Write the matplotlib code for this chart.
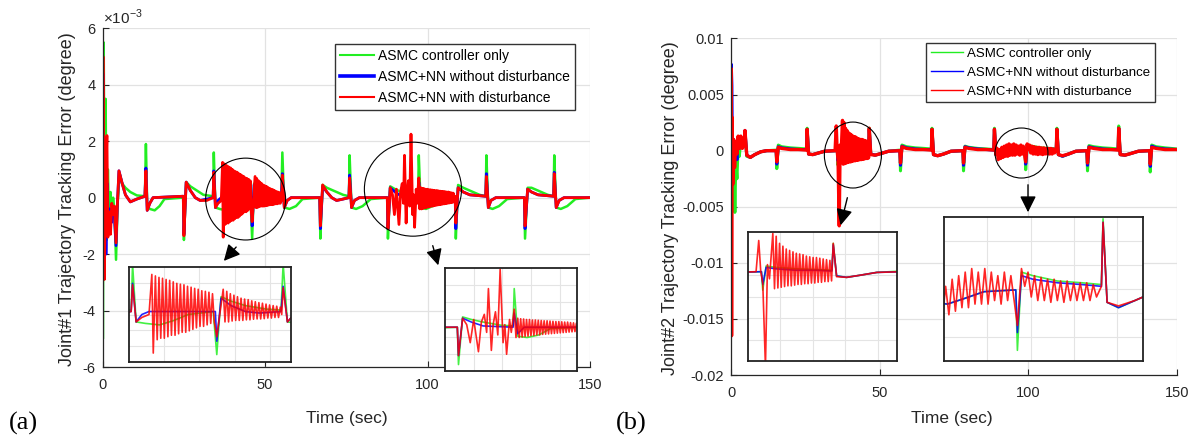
import matplotlib
matplotlib.use('Agg')
import matplotlib.pyplot as plt
from matplotlib.patches import Ellipse
from matplotlib.lines import Line2D

plt.rcParams['font.family'] = ['Liberation Sans', 'DejaVu Sans']
plt.rcParams['mathtext.fontset'] = 'custom'
plt.rcParams['mathtext.rm'] = 'Liberation Sans'

# ---------------- data ----------------
labels = ['ASMC controller only', 'ASMC+NN without disturbance', 'ASMC+NN with disturbance']
colors = ['#22ee22', '#0000ff', '#ff0000']

x_ticks = [0, 50, 100, 150]
j1_ticks = [-6, -4, -2, 0, 2, 4, 6]                       # x 1e-3
j1_ticklabels = ['-6', '-4', '-2', '0', '2', '4', '6']
j2_ticks = [-0.02, -0.015, -0.01, -0.005, 0, 0.005, 0.01]
j2_ticklabels = ['-0.02', '-0.015', '-0.01', '-0.005', '0', '0.005', '0.01']

# Joint 1 (units of 1e-3 degree): (time, error)
j1_green = [(0, 0), (0.05, -5.0), (0.3, 5.5), (0.6, -1.0), (0.9, 3.5), (1.2, -1.5), (1.6, 1.0), (2.0, -1.0),
            (2.4, 0.2), (2.8, -0.6), (3.2, 0.0), (3.6, -0.4), (4.1, -2.2), (4.6, -0.2), (5.2, 0.85), (6.0, 0.5),
            (7.0, 0.35), (8.5, 0.2), (10.5, 0.08), (13.0, 0.05),
            (13.3, 1.9), (13.7, -0.3), (14.5, -0.4), (16.0, -0.45), (17.5, -0.3), (19.0, -0.05), (24.8, 0.0),
            (25.0, -1.5), (25.7, 0.55), (27.0, 0.4), (29.0, 0.25), (31.0, 0.1), (34.0, 0.05),
            (34.2, 1.6), (34.7, -0.35), (36.0, -0.4), (38.0, -0.45), (40.0, -0.3), (42.0, -0.1), (45.5, 0.0),
            (46.0, -1.45), (46.6, 0.5), (48.0, 0.35), (50.0, 0.2), (53.0, 0.08), (55.0, 0.05),
            (55.3, 1.6), (55.9, -0.35), (57.5, -0.4), (59.5, -0.3), (61.5, -0.05), (66.8, 0.0),
            (67.0, -1.45), (67.7, 0.45), (69.0, 0.35), (71.0, 0.25), (74.0, 0.1), (75.8, 0.05),
            (76.0, 1.5), (76.6, -0.35), (78.0, -0.4), (80.0, -0.3), (82.5, -0.05), (87.6, 0.0),
            (87.8, -1.45), (88.5, 0.4), (90.0, 0.3), (92.0, 0.2), (95.0, 0.08), (97.1, 0.05),
            (97.3, 1.5), (97.9, -0.35), (99.5, -0.4), (101.5, -0.3), (103.5, -0.05), (108.5, 0.0),
            (108.7, -1.45), (109.4, 0.45), (111.0, 0.35), (113.0, 0.25), (116.0, 0.1), (117.9, 0.05),
            (118.1, 1.5), (118.7, -0.35), (120.0, -0.4), (122.0, -0.3), (124.5, -0.05), (129.8, 0.0),
            (130.0, -1.45), (130.8, 0.35), (132.0, 0.35), (134.0, 0.25), (137.0, 0.1), (138.8, 0.05),
            (139.0, 1.5), (139.6, -0.35), (141.0, -0.4), (143.0, -0.3), (145.5, -0.05), (150, 0.0)]

j1_blue = [(0, 0), (0.1, 4.4), (0.4, -2.5), (0.7, 1.5), (1.0, -2.0), (1.4, 0.5), (1.8, -1.2), (2.2, -0.4),
           (2.6, -0.9), (3.0, -0.3), (3.5, -0.5), (4.1, -1.7), (4.5, -0.3), (5.0, 0.95), (6.0, 0.5), (7.0, 0.1),
           (8.5, -0.15), (10.5, -0.05), (13.0, 0.05),
           (13.3, 1.05), (13.7, -0.45), (14.5, -0.2), (15.5, 0.0), (24.8, 0.05),
           (25.0, -1.3), (25.7, 0.55), (27.0, 0.25), (28.5, 0.0), (30.0, -0.1), (32.0, -0.05), (34.0, 0.0),
           (34.2, 0.95), (34.7, -0.35), (35.5, -0.1), (36.5, 0.0), (45.8, 0.0),
           (46.0, -1.0), (46.6, 0.45), (48.0, 0.2), (50.0, 0.0), (52.0, -0.05), (55.0, 0.0),
           (55.3, 0.85), (55.9, -0.35), (56.8, -0.1), (58.0, 0.0), (66.8, 0.0),
           (67.0, -1.1), (67.7, 0.4), (69.0, 0.2), (70.5, 0.0), (72.0, -0.1), (74.0, -0.05), (75.8, 0.0),
           (76.0, 0.8), (76.6, -0.35), (77.5, -0.1), (79.0, 0.0), (87.6, 0.0),
           (87.8, -1.1), (88.5, 0.35), (90.0, 0.2), (92.0, 0.05), (97.1, 0.0),
           (97.3, 0.55), (97.9, -0.25), (99.0, 0.0), (108.5, 0.0),
           (108.7, -1.1), (109.4, 0.35), (111.0, 0.2), (113.0, 0.1), (117.9, 0.05),
           (118.1, 0.85), (118.7, -0.35), (119.5, -0.1), (121.0, 0.0), (129.8, 0.0),
           (130.0, -1.1), (130.8, 0.3), (132.0, 0.2), (134.0, 0.1), (138.8, 0.05),
           (139.0, 0.9), (139.6, -0.35), (140.5, -0.1), (142.0, 0.0), (150, 0.0)]

j1_red = [(0, 0), (0.1, 5.0), (0.5, -2.9), (0.9, 0.5), (1.3, 2.2), (1.6, -1.4), (2.0, -0.5), (2.4, -1.3),
          (2.8, -0.2), (3.2, -0.6), (3.6, -0.3), (4.1, -1.6), (4.5, -0.3), (5.0, 0.95), (6.0, 0.5), (7.0, 0.1),
          (8.5, -0.15), (10.5, -0.05), (13.0, 0.05),
          (13.3, 0.95), (13.7, -0.45), (14.5, -0.2), (15.5, 0.0), (24.8, 0.05),
          (25.0, -1.35), (25.7, 0.55), (27.0, 0.25), (28.5, 0.0), (30.0, -0.1), (32.0, -0.1), (34.0, 0.0),
          (34.2, 0.9), (34.7, -0.35), (35.5, -0.2), (36.5, -0.1),
          (36.9, 1.25), (37.1, -1.4), (37.4, 1.2), (37.65, -0.95), (37.9, 1.15), (38.15, -0.9), (38.4, 1.12),
          (38.65, -0.9), (38.9, 1.08), (39.15, -0.85), (39.4, 1.05), (39.65, -0.8), (39.9, 1.0), (40.15, -0.8),
          (40.4, 0.95), (40.65, -0.75), (40.9, 0.92), (41.15, -0.7), (41.4, 0.9), (41.65, -0.7), (41.9, 0.85),
          (42.15, -0.65), (42.4, 0.82), (42.65, -0.6), (42.9, 0.78), (43.15, -0.55), (43.4, 0.75), (43.65, -0.5),
          (43.9, 0.7), (44.15, -0.5), (44.4, 0.68), (44.65, -0.45), (44.9, 0.65), (45.15, -0.4), (45.4, 0.6),
          (45.65, -0.35),
          (46.0, -0.85), (46.9, 0.75), (47.15, -0.35), (47.4, 0.68), (47.65, -0.35), (47.9, 0.6), (48.15, -0.32),
          (48.4, 0.55), (48.65, -0.3), (48.9, 0.5), (49.15, -0.3), (49.4, 0.45), (49.65, -0.3), (49.9, 0.42),
          (50.15, -0.28), (50.4, 0.4), (50.65, -0.28), (50.9, 0.36), (51.15, -0.26), (51.4, 0.33), (51.65, -0.25),
          (51.9, 0.3), (52.15, -0.25), (52.4, 0.28), (52.65, -0.24), (52.9, 0.25), (53.15, -0.22), (53.4, 0.22),
          (53.65, -0.22), (53.9, 0.2), (54.15, -0.2), (54.4, 0.18), (54.65, -0.2), (54.9, 0.15), (55.1, -0.1),
          (55.3, 0.8), (55.9, -0.35), (56.8, -0.1), (58.0, 0.0), (66.8, 0.0),
          (67.0, -1.0), (67.7, 0.45), (69.0, 0.2), (70.5, 0.0), (72.0, -0.1), (74.0, -0.05), (75.8, 0.0),
          (76.0, 0.7), (76.6, -0.35), (77.5, -0.1), (79.0, 0.0), (87.6, 0.0),
          (87.8, -1.1), (88.5, 0.35), (89.2, 0.1), (89.8, -0.6), (90.4, 0.3), (91.2, -0.95), (91.7, 0.2),
          (92.2, 0.5), (92.6, -0.2), (92.9, 1.5), (93.4, -0.9), (93.7, 0.1), (94.1, 0.6), (94.5, -0.3),
          (94.9, 2.25), (95.4, -0.6), (95.7, 0.1), (96.0, -1.05), (96.5, 0.3), (96.8, -0.2), (97.3, 0.7),
          (97.6, -0.4),
          (97.9, 0.35), (98.15, -0.4), (98.4, 0.33), (98.65, -0.38), (98.9, 0.32), (99.15, -0.36), (99.4, 0.3),
          (99.65, -0.35), (99.9, 0.3), (100.15, -0.33), (100.4, 0.28), (100.65, -0.32), (100.9, 0.28),
          (101.15, -0.3), (101.4, 0.27), (101.65, -0.3), (101.9, 0.26), (102.15, -0.28), (102.4, 0.25),
          (102.65, -0.27), (102.9, 0.25), (103.15, -0.26), (103.4, 0.24), (103.65, -0.25), (103.9, 0.23),
          (104.15, -0.24), (104.4, 0.22), (104.65, -0.23), (104.9, 0.22), (105.15, -0.22), (105.4, 0.21),
          (105.65, -0.21), (105.9, 0.2), (106.15, -0.2), (106.4, 0.2), (106.65, -0.19), (106.9, 0.18),
          (107.15, -0.18), (107.4, 0.17), (107.65, -0.17), (107.9, 0.16), (108.15, -0.15), (108.5, 0.05),
          (108.7, -0.9), (109.4, 0.35), (111.0, 0.2), (113.0, 0.1), (117.9, 0.05),
          (118.1, 0.75), (118.7, -0.35), (119.5, -0.1), (121.0, 0.0), (129.8, 0.0),
          (130.0, -1.0), (130.8, 0.3), (132.0, 0.2), (134.0, 0.1), (138.8, 0.05),
          (139.0, 0.85), (139.6, -0.35), (140.5, -0.1), (142.0, 0.0), (150, 0.0)]

# Joint 2 (units of 1e-3 degree): (time, error)
j2_green = [(0, 0), (0.3, 1.0), (0.7, -2.0), (1.0, -0.5), (1.3, -5.5), (1.6, -1.0), (2.0, -2.5), (2.4, 0.5),
            (2.8, -0.5), (3.3, 1.0), (3.8, 0.3), (4.4, 0.5),
            (4.7, 1.6), (5.3, -0.5), (6.5, -0.6), (8.0, -0.35), (10, -0.1), (12, 0.0), (15.2, 0.05),
            (15.4, -1.6), (15.9, 0.5), (17, 0.35), (20, 0.25), (23, 0.2), (25.4, 0.15),
            (25.6, 2.0), (26.1, -0.3), (27.5, -0.35), (29.5, -0.2), (31.5, -0.05), (35.8, 0.0),
            (36.0, -1.3), (36.5, 0.4), (38, 0.3), (41, 0.2), (44, 0.15), (46.3, 0.1),
            (46.5, 2.0), (47.0, -0.3), (48.5, -0.4), (50.5, -0.25), (53, -0.05), (56.8, 0.05),
            (57.0, -1.8), (57.5, 0.5), (59, 0.35), (62, 0.25), (65, 0.2), (67.4, 0.15),
            (67.6, 2.0), (68.1, -0.35), (69.5, -0.45), (71.5, -0.3), (74, -0.05), (78.0, 0.0),
            (78.2, -1.8), (78.7, 0.4), (80, 0.3), (83, 0.2), (86, 0.15), (88.4, 0.1),
            (88.6, 2.0), (89.1, -0.35), (90.5, -0.4), (92.5, -0.25), (95, -0.05), (98.9, 0.0),
            (99.1, -1.7), (99.6, 0.5), (101, 0.4), (104, 0.25), (107, 0.2), (109.4, 0.15),
            (109.6, 2.0), (110.1, -0.35), (111.5, -0.5), (113.5, -0.3), (116, -0.05), (119.7, 0.0),
            (119.9, -1.8), (120.4, 0.45), (122, 0.35), (125, 0.25), (128, 0.2), (130.2, 0.15),
            (130.4, 2.2), (130.9, -0.35), (132.5, -0.4), (134.5, -0.25), (137, -0.05), (140.8, 0.0),
            (141.0, -1.9), (141.5, 0.5), (143, 0.35), (146, 0.25), (150, 0.15)]

j2_blue = [(0, 0), (0.1, 7.7), (0.3, 5.8), (0.5, -2.5), (0.8, 1.0), (1.1, -1.5), (1.5, 0.3), (2.0, -0.8),
           (2.4, 1.0), (2.8, 0.2), (3.3, 1.2), (3.8, 0.3), (4.4, 0.6),
           (4.7, 1.8), (5.3, -0.4), (6.5, -0.6), (8.0, -0.35), (10, -0.1), (12, 0.0), (15.2, 0.0),
           (15.4, -1.2), (15.9, 0.35), (17, 0.25), (20, 0.15), (23, 0.1), (25.4, 0.1),
           (25.6, 1.9), (26.1, -0.3), (27.5, -0.35), (29.5, -0.2), (31.5, -0.05), (35.8, 0.0),
           (36.0, -0.9), (36.5, 0.3), (38, 0.2), (41, 0.1), (44, 0.1), (46.3, 0.05),
           (46.5, 1.9), (47.0, -0.3), (48.5, -0.4), (50.5, -0.25), (53, -0.05), (56.8, 0.0),
           (57.0, -1.3), (57.5, 0.4), (59, 0.25), (62, 0.15), (65, 0.1), (67.4, 0.1),
           (67.6, 1.9), (68.1, -0.35), (69.5, -0.45), (71.5, -0.3), (74, -0.05), (78.0, 0.0),
           (78.2, -1.3), (78.7, 0.35), (80, 0.25), (83, 0.15), (86, 0.1), (88.4, 0.05),
           (88.6, 1.9), (89.1, -0.35), (90.5, -0.4), (92.5, -0.25), (95, -0.05), (98.9, 0.0),
           (99.1, -1.2), (99.6, 0.4), (101, 0.3), (104, 0.2), (107, 0.15), (109.4, 0.1),
           (109.6, 1.9), (110.1, -0.35), (111.5, -0.5), (113.5, -0.3), (116, -0.05), (119.7, 0.0),
           (119.9, -1.3), (120.4, 0.35), (122, 0.25), (125, 0.15), (128, 0.1), (130.2, 0.1),
           (130.4, 2.0), (130.9, -0.35), (132.5, -0.4), (134.5, -0.25), (137, -0.05), (140.8, 0.0),
           (141.0, -1.4), (141.5, 0.4), (143, 0.25), (146, 0.15), (150, 0.1)]

j2_red = [(0, 0), (0.1, 7.3), (0.2, -16.5), (0.35, 3.0), (0.6, -3.0), (0.9, 1.0), (1.2, -1.5), (1.6, 0.8),
          (2.0, -0.3), (2.4, 1.3), (2.8, 0.2), (3.3, 1.3), (3.8, 0.2), (4.4, 0.6),
          (4.7, 1.8), (5.3, -0.4), (6.5, -0.6), (8.0, -0.35), (10, -0.1), (12, 0.0), (15.2, 0.0),
          (15.4, -1.0), (15.9, 0.3), (17, 0.2), (20, 0.1), (23, 0.1), (25.4, 0.05),
          (25.6, 1.9), (26.1, -0.3), (27.5, -0.35), (29.5, -0.2), (31.5, -0.05), (35.0, 0.0),
          (35.4, 2.2), (35.7, 0.0), (36.0, -0.8), (36.4, -6.7), (36.7, 0.5), (37.0, -0.5),
          (37.5, 2.7), (37.75, -1.2), (38.0, 2.5), (38.25, -1.15), (38.5, 2.0), (38.75, -1.1), (39.0, 1.8),
          (39.25, -1.05), (39.5, 1.6), (39.75, -1.0), (40.0, 1.5), (40.25, -1.0), (40.5, 1.4), (40.75, -0.95),
          (41.0, 1.3), (41.25, -0.9), (41.5, 1.25), (41.75, -0.9), (42.0, 1.2), (42.25, -0.85), (42.5, 1.1),
          (42.75, -0.85), (43.0, 1.05), (43.25, -0.8), (43.5, 1.0), (43.75, -0.8), (44.0, 1.0), (44.25, -0.75),
          (44.5, 0.95), (44.75, -0.75), (45.0, 0.9), (45.25, -0.7), (45.5, 0.85), (45.75, -0.7), (46.0, 0.8),
          (46.25, -0.65),
          (46.5, 2.0), (47, -0.35), (48.5, -0.4), (50.5, -0.25), (53, -0.05), (56.8, 0.0),
          (57.0, -1.1), (57.5, 0.35), (59, 0.2), (62, 0.1), (65, 0.1), (67.4, 0.05),
          (67.6, 1.9), (68.1, -0.35), (69.5, -0.45), (71.5, -0.3), (74, -0.05), (78, 0.0),
          (78.2, -1.1), (78.7, 0.3), (80, 0.2), (83, 0.1), (86, 0.1), (88.4, 0.05),
          (88.6, 1.9), (89.1, -0.35), (89.5, 0.2), (89.9, -0.8), (90.3, 0.1), (90.7, -0.7), (91.1, 0.3),
          (91.5, -0.6), (91.9, 0.4), (92.3, -0.5), (92.7, 0.5), (93.1, -0.5), (93.5, 0.6), (93.9, -0.4),
          (94.3, 0.5), (94.7, -0.4), (95.1, 0.6), (95.5, -0.4), (95.9, 0.5), (96.3, -0.3), (96.7, 0.4),
          (97.1, -0.4), (97.5, 0.5), (97.9, -0.3), (98.3, 0.4), (98.7, -0.3),
          (99.1, -1.0), (99.6, 0.6), (100, 0.1), (100.4, 0.5), (100.8, -0.2), (101.2, 0.4), (101.6, -0.3),
          (102, 0.35), (102.4, -0.3), (102.8, 0.3), (103.2, -0.35), (103.6, 0.3), (104, -0.3), (104.4, 0.25),
          (104.8, -0.35), (105.2, 0.25), (105.6, -0.3), (106, 0.2), (106.4, -0.3), (106.8, 0.2), (107.2, -0.3),
          (107.6, 0.2), (108, -0.3), (108.4, 0.15), (108.8, -0.2), (109.4, 0.1),
          (109.6, 1.9), (110.1, -0.35), (111.5, -0.45), (113.5, -0.3), (116, -0.05), (119.7, 0.0),
          (119.9, -1.1), (120.4, 0.3), (122, 0.2), (125, 0.1), (128, 0.1), (130.2, 0.05),
          (130.4, 2.0), (130.9, -0.35), (132.5, -0.4), (134.5, -0.25), (137, -0.05), (140.8, 0.0),
          (141.0, -1.2), (141.5, 0.3), (143, 0.2), (146, 0.1), (150, 0.1)]

# zoom windows of the insets: (t_min, t_max, v_min, v_max), in units of 1e-3
j1_zoom_a = (33.7, 56.4, -1.7, 1.5)
j1_zoom_b = (85.5, 108.0, -1.7, 2.3)
j2_zoom_a = (33.8, 56.0, -6.3, 2.8)
j2_zoom_b = (90.1, 114.5, -2.0, 2.05)

SCALE = 1e-3

# ---------------- figure ----------------
W, H = 1192, 440
fig = plt.figure(figsize=(W / 100, H / 100), dpi=100)


def box(x0, y0, x1, y1):
    return [x0 / W, 1 - y1 / H, (x1 - x0) / W, (y1 - y0) / H]


def unzip(pts, s=1.0):
    return [p[0] for p in pts], [p[1] * s for p in pts]


TXT = '#262626'


def style_main(ax):
    for s in ['top', 'right']:
        ax.spines[s].set_visible(False)
    for s in ['left', 'bottom']:
        ax.spines[s].set_color(TXT)
        ax.spines[s].set_linewidth(0.9)
    ax.tick_params(direction='in', length=4, width=0.8, colors=TXT, labelsize=10.5)
    ax.tick_params(axis='x', pad=8)
    ax.tick_params(axis='y', pad=5)
    ax.grid(True, color='#e2e2e2', lw=0.9)
    ax.set_axisbelow(True)
    ax.set_xlim(0, 150)
    ax.set_xticks(x_ticks)


def plot_series(ax, series, s, lws, alpha=1.0):
    for pts, c, lw in zip(series, colors, lws):
        t, v = unzip(pts, s)
        ax.plot(t, v, color=c, lw=lw, alpha=alpha, solid_joinstyle='round')


def style_inset(ax, zoom, s):
    ax.set_xlim(zoom[0], zoom[1])
    ax.set_ylim(zoom[2] * s, zoom[3] * s)
    ax.set_xticks([])
    ax.set_yticks([])
    ax.grid(False)
    for sp in ax.spines.values():
        sp.set_color('#222222')
        sp.set_linewidth(1.3)


# ---- left panel ----
ax1 = fig.add_axes(box(102.7, 28.3, 590, 367))
style_main(ax1)
ax1.set_ylim(-6, 6)
ax1.set_yticks(j1_ticks)
ax1.set_yticklabels(j1_ticklabels)
ax1.set_xticklabels([str(v) for v in x_ticks])
plot_series(ax1, [j1_green, j1_blue, j1_red], 1.0, [1.8, 2.0, 2.0])

# ---- right panel ----
ax2 = fig.add_axes(box(731, 38.5, 1177, 375))
style_main(ax2)
ax2.set_ylim(-0.02, 0.01)
ax2.set_yticks(j2_ticks)
ax2.set_yticklabels(j2_ticklabels)
ax2.set_xticklabels([str(v) for v in x_ticks])
plot_series(ax2, [j2_green, j2_blue, j2_red], SCALE, [2.2, 2.2, 2.4])

# ---- legends ----
for ax, anchor, fs, lws in [(ax1, (575, 44), 10, [1.5, 2.6, 1.5]), (ax2, (1155, 43), 9.5, [1.0, 1.0, 1.0])]:
    handles = [Line2D([], [], color=c, lw=lw) for c, lw in zip(colors, lws)]
    leg = ax.legend(handles, labels, loc='upper right', bbox_to_anchor=(anchor[0] / W, 1 - anchor[1] / H),
                    bbox_transform=fig.transFigure, fontsize=fs, frameon=True, fancybox=False,
                    framealpha=1, edgecolor='#333333', borderaxespad=0, borderpad=0.35,
                    handlelength=2.45, handletextpad=0.3, labelspacing=0.5)
    leg.get_frame().set_linewidth(1.0)

# ---- circles (data coordinates of the main axes) ----
ax1.add_patch(Ellipse((44.0, -0.05), 24.6, 2.9, fill=False, ec='black', lw=0.8, clip_on=False, zorder=5))
ax1.add_patch(Ellipse((95.5, 0.30), 29.9, 3.33, fill=False, ec='black', lw=0.8, clip_on=False, zorder=5))
ax2.add_patch(Ellipse((41.0, -0.00039), 19.2, 0.00588, fill=False, ec='black', lw=0.8, clip_on=False, zorder=5))
ax2.add_patch(Ellipse((97.7, -0.00021), 17.8, 0.00446, fill=False, ec='black', lw=0.8, clip_on=False, zorder=5))

# ---- insets ----
ins = [
    (box(129, 267, 291, 362), [j1_green, j1_blue, j1_red], 1.0, j1_zoom_a),
    (box(445, 268, 577, 371), [j1_green, j1_blue, j1_red], 1.0, j1_zoom_b),
    (box(748, 232, 897, 361), [j2_green, j2_blue, j2_red], SCALE, j2_zoom_a),
    (box(944, 217, 1143, 361), [j2_green, j2_blue, j2_red], SCALE, j2_zoom_b),
]
for rect, series, s, zoom in ins:
    a = fig.add_axes(rect)
    a.set_facecolor('white')
    plot_series(a, series, s, [1.2, 1.2, 1.2], alpha=0.85)
    style_inset(a, zoom, s)
    for k in range(1, 5):
        a.axvline(zoom[0] + k * (zoom[1] - zoom[0]) / 4.6, color='#e4e4e4', lw=0.8, zorder=0)
    for k in range(1, 6):
        a.axhline((zoom[2] + k * (zoom[3] - zoom[2]) / 6) * s, color='#e4e4e4', lw=0.8, zorder=0)

# ---- arrows (figure pixels) ----
for (x0, y0), (x1, y1) in [((238, 245), (222, 263)), ((432, 243), (439, 268)),
                           ((848, 195), (840, 228)), ((1028, 182), (1028, 215))]:
    fig.add_artist(matplotlib.patches.FancyArrowPatch(
        (x0 / W, 1 - y0 / H), (x1 / W, 1 - y1 / H), transform=fig.transFigure,
        arrowstyle='-|>,head_length=0.7,head_width=0.35', mutation_scale=14, color='black', lw=1.0))

# ---- texts ----
fig.text(103 / W, 1 - 17 / H, r'$\times10^{-3}$', fontsize=11, color=TXT, va='center', ha='left')
fig.text(67.5 / W, 1 - 199 / H, 'Joint#1 Trajectory Tracking Error (degree)', rotation=90,
         fontsize=13, color=TXT, ha='center', va='center')
fig.text(670 / W, 1 - 208 / H, 'Joint#2 Trajectory Tracking Error (degree)', rotation=90,
         fontsize=13, color=TXT, ha='center', va='center')
fig.text(347 / W, 1 - 418 / H, 'Time (sec)', fontsize=12.5, color=TXT, ha='center', va='center')
fig.text(952 / W, 1 - 418 / H, 'Time (sec)', fontsize=12.5, color=TXT, ha='center', va='center')
fig.text(23 / W, 1 - 423 / H, '(a)', fontsize=19, family='Liberation Serif', ha='center', va='center')
fig.text(631 / W, 1 - 423 / H, '(b)', fontsize=19, family='Liberation Serif', ha='center', va='center')

fig.savefig('out.png', dpi=100)
